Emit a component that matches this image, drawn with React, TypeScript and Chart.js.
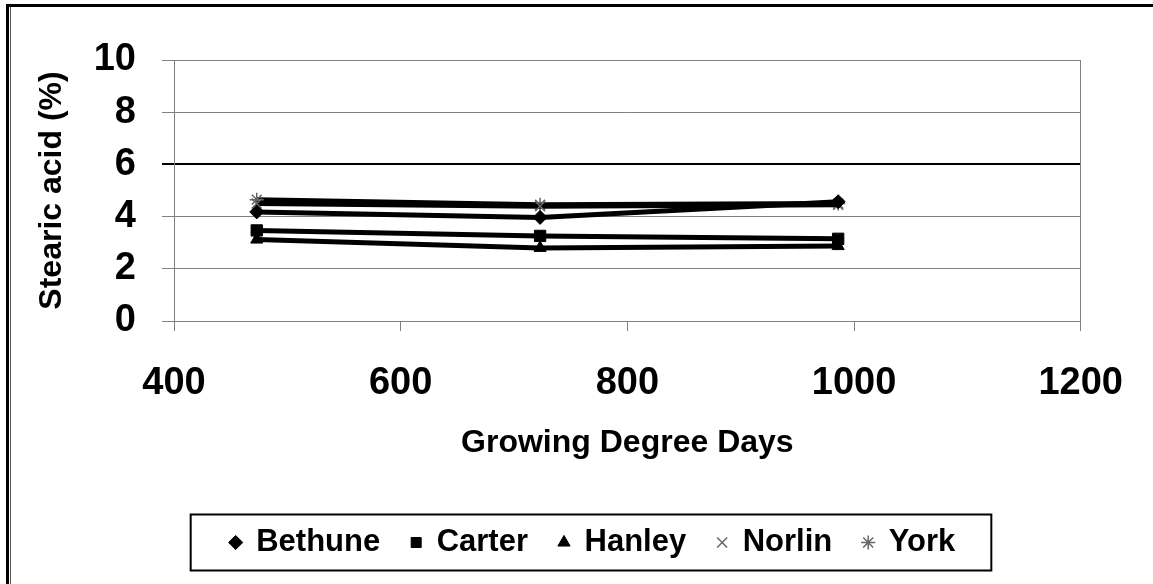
import React, { useEffect, useRef } from "react";
import { Chart, registerables } from "chart.js";

Chart.register(...registerables);

// Growing Degree Days (x) and stearic acid (%) per cultivar
const gdd = [473, 723, 986];
const bethune = [4.18, 3.97, 4.57];
const carter = [3.47, 3.26, 3.15];
const hanley = [3.12, 2.8, 2.87];
const norlin = [4.5, 4.4, 4.45];
const york = [4.65, 4.45, 4.5];
const seriesNames = ["Bethune", "Carter", "Hanley", "Norlin", "York"];
const xTickValues = [400, 600, 800, 1000, 1200];
const yTickValues = [0, 2, 4, 6, 8, 10];

const FONT = "Arial, 'Liberation Sans', sans-serif";

const legendBoxPlugin = {
  id: "legendBoxBorder",
  afterDraw(chart: any) {
    const lg: any = chart.legend;
    if (!lg || !lg.legendHitBoxes || !lg.legendHitBoxes.length) return;
    const hb = lg.legendHitBoxes;
    const first = hb[0];
    const last = hb[hb.length - 1];
    const cy = first.top + first.height / 2;
    const ctx = chart.ctx;
    ctx.save();
    ctx.strokeStyle = "#000";
    ctx.lineWidth = 2;
    const left = first.left - 40;
    const right = last.left + last.width + 36;
    ctx.strokeRect(left, cy - 28, right - left, 56);
    ctx.restore();
  },
};

export default function App() {
  const ref = useRef<HTMLCanvasElement | null>(null);

  useEffect(() => {
    if (!ref.current) return;
    const series = [bethune, carter, hanley, norlin, york];
    const styles = [
      { pointStyle: "rectRot", radius: 7, bg: "#000", bc: "#000", bw: 1 },
      { pointStyle: "rect", radius: 8, bg: "#000", bc: "#000", bw: 1 },
      { pointStyle: "triangle", radius: 7, bg: "#000", bc: "#000", bw: 1 },
      { pointStyle: "crossRot", radius: 7, bg: "#666", bc: "#666", bw: 1.5 },
      { pointStyle: "star", radius: 7, bg: "#666", bc: "#666", bw: 1.5 },
    ];
    const datasets = series.map((vals, i) => ({
      label: seriesNames[i],
      data: vals.map((v, j) => ({ x: gdd[j], y: v })),
      borderColor: "#000",
      backgroundColor: styles[i].bg,
      borderWidth: 5,
      pointStyle: styles[i].pointStyle as any,
      pointRadius: styles[i].radius,
      pointBackgroundColor: styles[i].bg,
      pointBorderColor: styles[i].bc,
      pointBorderWidth: styles[i].bw,
      tension: 0,
      fill: false,
    }));

    const chart = new Chart(ref.current, {
      type: "line",
      data: { datasets },
      plugins: [legendBoxPlugin],
      options: {
        animation: false,
        responsive: true,
        maintainAspectRatio: false,
        layout: { padding: { top: 60, left: 33, right: 0, bottom: 16 } },
        plugins: {
          tooltip: { enabled: false },
          legend: {
            display: true,
            position: "bottom",
            fullSize: true,
            labels: {
              usePointStyle: true,
              boxWidth: 10,
              boxHeight: 10,
              padding: 31,
              color: "#000",
              font: { family: FONT, size: 31, weight: "bold" },
            },
          },
        },
        scales: {
          x: {
            type: "linear",
            min: 400,
            max: 1200,
            afterBuildTicks: (s: any) => {
              s.ticks = xTickValues.map((v) => ({ value: v }));
            },
            afterFit: (s: any) => {
              s.height = 175;
            },
            grid: {
              drawOnChartArea: false,
              drawTicks: true,
              tickLength: 10,
              color: "#808080",
            },
            border: { display: true, color: "#808080", width: 1 },
            ticks: {
              color: "#000",
              padding: 30,
              maxRotation: 0,
              callback: (v: any) => String(v),
              font: { family: FONT, size: 38, weight: "bold" },
            },
            title: {
              display: true,
              text: "Growing Degree Days",
              color: "#000",
              padding: { top: 0, bottom: 34 },
              font: { family: FONT, size: 32, weight: "bold" },
            },
          },
          y: {
            type: "linear",
            position: "left",
            min: 0,
            max: 10,
            afterBuildTicks: (s: any) => {
              s.ticks = yTickValues.map((v) => ({ value: v }));
            },
            afterFit: (s: any) => {
              s.width = 141;
            },
            grid: {
              drawTicks: true,
              tickLength: 12,
              color: (c: any) => (c.tick && c.tick.value === 6 ? "#000" : "#808080"),
              lineWidth: (c: any) => (c.tick && c.tick.value === 6 ? 2 : 1),
            },
            border: { display: true, color: "#808080", width: 1 },
            ticks: {
              color: "#000",
              padding: 26,
              callback: (v: any) => String(v),
              font: { family: FONT, size: 38, weight: "bold" },
            },
            title: {
              display: true,
              text: "Stearic acid (%)",
              color: "#000",
              padding: { top: 0, bottom: 0 },
              font: { family: FONT, size: 32, weight: "bold" },
            },
          },
          y2: {
            type: "linear",
            position: "right",
            min: 0,
            max: 10,
            afterFit: (s: any) => {
              s.width = 72;
            },
            grid: { display: false, drawOnChartArea: false },
            border: { display: true, color: "#808080", width: 1 },
            ticks: { display: false },
          },
        },
      },
    });
    return () => chart.destroy();
  }, []);

  return (
    <div
      style={{
        position: "absolute",
        left: 0,
        top: 0,
        width: 1153,
        height: 584,
        background: "#fff",
        overflow: "hidden",
      }}
    >
      <div
        style={{
          position: "absolute",
          left: 6,
          top: 4,
          width: 1200,
          height: 700,
          borderTop: "3px solid #000",
          borderLeft: "3px solid #000",
          boxSizing: "border-box",
        }}
      />
      <div
        style={{
          position: "absolute",
          left: 10,
          top: 7,
          width: 1,
          height: 700,
          background: "#555",
        }}
      />
      <div style={{ position: "absolute", left: 0, top: 0, width: 1153, height: 584 }}>
        <canvas ref={ref} />
      </div>
    </div>
  );
}
